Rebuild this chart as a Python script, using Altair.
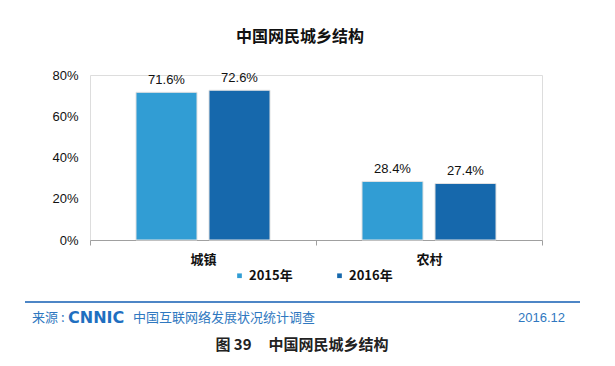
import altair as alt
import pandas as pd

categories = ["城镇", "农村"]
series = ["2015年", "2016年"]
values_2015 = [71.6, 28.4]
values_2016 = [72.6, 27.4]
colors = ["#319dd4", "#1668ac"]
y_ticks = [0, 20, 40, 60, 80]

title_text = "中国网民城乡结构"
source_label = "来源 :"
logo_text = "CNNIC"
source_text = "中国互联网络发展状况统计调查"
date_text = "2016.12"
caption_text = "图 39\u00a0\u00a0\u00a0\u00a0\u00a0中国网民城乡结构"

rows = []
for i, c in enumerate(categories):
    rows.append({"cat": c, "year": series[0], "v": values_2015[i], "label": f"{values_2015[i]:.1f}%"})
    rows.append({"cat": c, "year": series[1], "v": values_2016[i], "label": f"{values_2016[i]:.1f}%"})
df = pd.DataFrame(rows)

FONT = "Liberation Sans, Arial, 'Noto Sans CJK SC', sans-serif"
CJK = "'Noto Sans CJK SC', 'Liberation Sans', sans-serif"

W, H = 452, 165

x = alt.X("cat:N", sort=categories, title=None,
          scale=alt.Scale(paddingInner=0, paddingOuter=0),
          axis=alt.Axis(labelAngle=0, labelFont=CJK, labelFontSize=13, labelFontWeight="bold",
                        labelColor="#111", labelPadding=8, domainColor="#a0a0a0",
                        tickColor="#a0a0a0", tickBand="extent", tickSize=5, grid=False))
xo = alt.XOffset("year:N", sort=series,
                 scale=alt.Scale(paddingInner=0.164, paddingOuter=0.63))
y = alt.Y("v:Q", title=None,
          scale=alt.Scale(domain=[0, 80]),
          axis=alt.Axis(values=y_ticks, labelExpr="datum.value + '%'", domain=False, ticks=False,
                        grid=False, labelFont=FONT, labelFontSize=13, labelColor="#111",
                        labelPadding=12))

bars = alt.Chart(df).mark_bar(stroke="#e2e2e2", strokeWidth=1).encode(
    x=x, xOffset=xo, y=y,
    color=alt.Color("year:N", sort=series,
                    scale=alt.Scale(domain=series, range=colors),
                    legend=alt.Legend(title=None, orient="none", legendX=143, legendY=194,
                                      direction="horizontal", symbolType="square", symbolSize=22,
                                      symbolStrokeWidth=0, labelFont=CJK, labelFontSize=13,
                                      labelFontWeight="bold", labelColor="#111",
                                      labelOffset=3, columnPadding=40)),
)

labels = alt.Chart(df).mark_text(dy=-12, font=FONT, fontSize=13, color="#111").encode(
    x=alt.X("cat:N", sort=categories), xOffset=alt.XOffset("year:N", sort=series),
    y="v:Q", text="label:N",
)

one = pd.DataFrame({"a": [0]})

def txt(t, xv, yv, **kw):
    return alt.Chart(one).mark_text(**kw).encode(
        x=alt.value(xv), y=alt.value(yv), text=alt.value(t))

title = txt(title_text, 210, -38, font=CJK, fontSize=16, fontWeight="bold", color="#111", align="center", baseline="middle")
rule = alt.Chart(one).mark_rule(color="#4d86c6", strokeWidth=2).encode(
    x=alt.value(-65), x2=alt.value(490), y=alt.value(227))
src1 = txt(source_label, -58, 243, font=CJK, fontSize=13, color="#2f78c0", align="left", baseline="middle")
logo = txt(logo_text, -22, 243, font="DejaVu Sans", fontSize=16, fontWeight="bold", color="#1f6fc0", align="left", baseline="middle")
src2 = txt(source_text, 43, 243, font=CJK, fontSize=13, color="#2f78c0", align="left", baseline="middle")
date = txt(date_text, 475, 243, font=FONT, fontSize=13, color="#2f78c0", align="right", baseline="middle")
caption = txt(caption_text, 212, 270, font=CJK, fontSize=15, fontWeight="bold", color="#222", align="center", baseline="middle")

chart = alt.layer(bars, labels, title, rule, src1, logo, src2, date, caption).properties(
    width=W, height=H,
    autosize=alt.AutoSizeParams(type="none"),
    padding={"left": 82, "top": 67, "right": 65, "bottom": 118},
).configure_view(stroke=None).configure(background="white")

chart.save("out.html", embed_options={"renderer": "svg", "actions": False})
